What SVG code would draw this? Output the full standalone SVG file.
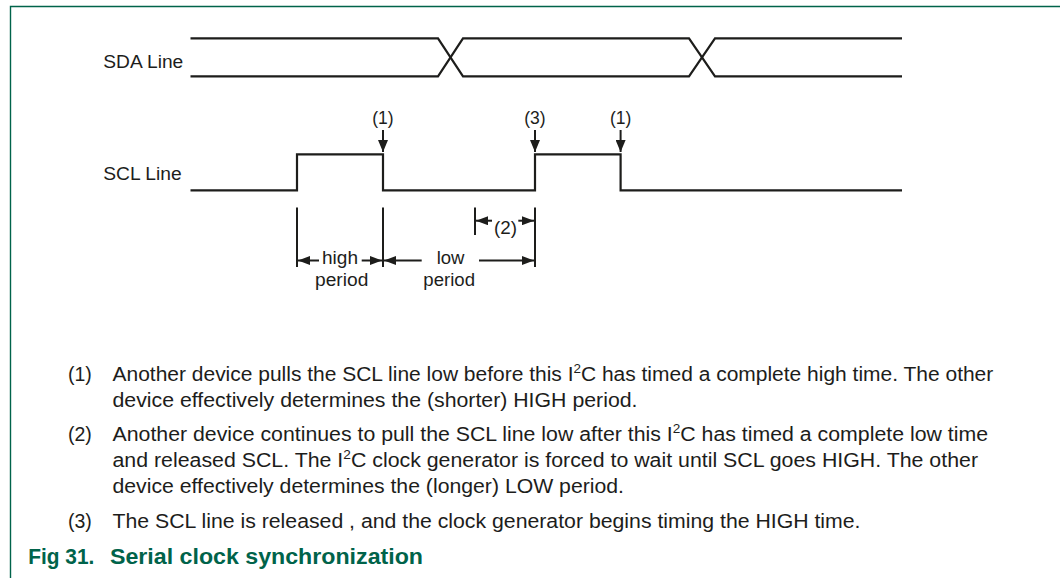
<svg xmlns="http://www.w3.org/2000/svg" width="1060" height="578" viewBox="0 0 1060 578">
<style>
.t{font-family:"Liberation Sans",Arial,sans-serif;fill:#1d1d1b}
.lbl{font-size:17.5px}
.body{font-size:19.5px}
.cap{font-family:"Liberation Sans",Arial,sans-serif;font-weight:bold;font-size:22.5px;fill:#00634a}
.sig{fill:none;stroke:#1d1d1b;stroke-width:2.2;stroke-linejoin:miter}
.dim{fill:none;stroke:#1d1d1b;stroke-width:2}
</style>
<defs>
<marker id="ah" viewBox="0 0 12 9" refX="12" refY="4.5" markerWidth="12" markerHeight="9" markerUnits="userSpaceOnUse" orient="auto">
<path d="M0,0 L12,4.5 L0,9 z" fill="#1d1d1b"/>
</marker>
<marker id="ahd" viewBox="0 0 12 10" refX="12" refY="5" markerWidth="12" markerHeight="10" markerUnits="userSpaceOnUse" orient="auto">
<path d="M0,0 L12,5 L0,10 z" fill="#1d1d1b"/>
</marker>
</defs>
<rect width="1060" height="578" fill="#ffffff"/>
<path d="M10.5,578 L10.5,6.5 L1060,6.5" fill="none" stroke="#00634a" stroke-width="1.4"/>

<g id="sda">
<text class="t lbl" x="103.3" y="68.3" textLength="80" lengthAdjust="spacingAndGlyphs">SDA Line</text>
<path class="sig" d="M190.5,38.3 L438,38.3 L463,76.3 L689,76.3 L715,38.3 L902,38.3"/>
<path class="sig" d="M190.5,76.3 L438,76.3 L463,38.3 L689,38.3 L715,76.3 L902,76.3"/>
</g>

<g id="scl">
<text class="t lbl" x="103.3" y="180.3" textLength="78.4" lengthAdjust="spacingAndGlyphs">SCL Line</text>
<path class="sig" d="M190.5,190.3 L297,190.3 L297,154.3 L383,154.3 L383,190.3 L535,190.3 L535,154.3 L620.6,154.3 L620.6,190.3 L902,190.3"/>
</g>

<g id="marker-1a">
<text class="t lbl" x="383" y="123.5" text-anchor="middle">(1)</text>
</g>
<g id="marker-3">
<text class="t lbl" x="535" y="123.5" text-anchor="middle">(3)</text>
</g>
<g id="marker-1b">
<text class="t lbl" x="620.6" y="123.5" text-anchor="middle">(1)</text>
</g>

<g id="dim-labels">
<text class="t lbl" x="322" y="263.5" textLength="36" lengthAdjust="spacingAndGlyphs">high</text>
<text class="t lbl" x="315" y="286" textLength="53.3" lengthAdjust="spacingAndGlyphs">period</text>
<text class="t lbl" x="436.7" y="263.5" textLength="27.8" lengthAdjust="spacingAndGlyphs">low</text>
<text class="t lbl" x="423.3" y="286" textLength="51.7" lengthAdjust="spacingAndGlyphs">period</text>
<text class="t lbl" x="494" y="233.5" textLength="23" lengthAdjust="spacingAndGlyphs">(2)</text>
</g>

<g id="connectors">
<line class="dim" x1="383" y1="130" x2="383" y2="152" marker-end="url(#ahd)"/>
<line class="dim" x1="535" y1="130" x2="535" y2="152" marker-end="url(#ahd)"/>
<line class="dim" x1="620.6" y1="130" x2="620.6" y2="152" marker-end="url(#ahd)"/>
<line class="dim" x1="297" y1="207.5" x2="297" y2="267"/>
<line class="dim" x1="383" y1="207.5" x2="383" y2="267"/>
<line class="dim" x1="535" y1="207.5" x2="535" y2="267"/>
<line class="dim" x1="475" y1="207.5" x2="475" y2="235"/>
<line class="dim" x1="319" y1="260.5" x2="298" y2="260.5" marker-end="url(#ah)"/>
<line class="dim" x1="361.7" y1="260.5" x2="382" y2="260.5" marker-end="url(#ah)"/>
<line class="dim" x1="421.7" y1="260.5" x2="384" y2="260.5" marker-end="url(#ah)"/>
<line class="dim" x1="479" y1="260.5" x2="534" y2="260.5" marker-end="url(#ah)"/>
<line class="dim" x1="492" y1="220.7" x2="476" y2="220.7" marker-end="url(#ah)"/>
<line class="dim" x1="518.3" y1="220.7" x2="534" y2="220.7" marker-end="url(#ah)"/>
</g>

<g id="notes">
<text class="t body" x="68" y="380.5">(1)</text>
<text class="t body" x="112.5" y="380.5" textLength="880.8" lengthAdjust="spacingAndGlyphs">Another device pulls the SCL line low before this I<tspan font-size="12.5" dy="-7.5">2</tspan><tspan dy="7.5">C has timed a complete high time. The other</tspan></text>
<text class="t body" x="112.5" y="406.5" textLength="525" lengthAdjust="spacingAndGlyphs">device effectively determines the (shorter) HIGH period.</text>
<text class="t body" x="68" y="440.5">(2)</text>
<text class="t body" x="112.5" y="440.5" textLength="875.5" lengthAdjust="spacingAndGlyphs">Another device continues to pull the SCL line low after this I<tspan font-size="12.5" dy="-7.5">2</tspan><tspan dy="7.5">C has timed a complete low time</tspan></text>
<text class="t body" x="112.5" y="466.7" textLength="865.5" lengthAdjust="spacingAndGlyphs">and released SCL. The I<tspan font-size="12.5" dy="-7.5">2</tspan><tspan dy="7.5">C clock generator is forced to wait until SCL goes HIGH. The other</tspan></text>
<text class="t body" x="112.5" y="492.7" textLength="511.5" lengthAdjust="spacingAndGlyphs">device effectively determines the (longer) LOW period.</text>
<text class="t body" x="68" y="527.7">(3)</text>
<text class="t body" x="112.5" y="527.7" textLength="748" lengthAdjust="spacingAndGlyphs">The SCL line is released , and the clock generator begins timing the HIGH time.</text>
</g>

<g id="caption">
<text class="cap" x="28.3" y="563.5" textLength="66" lengthAdjust="spacingAndGlyphs">Fig 31.</text>
<text class="cap" x="110" y="563.5" textLength="313" lengthAdjust="spacingAndGlyphs">Serial clock synchronization</text>
</g>
</svg>
